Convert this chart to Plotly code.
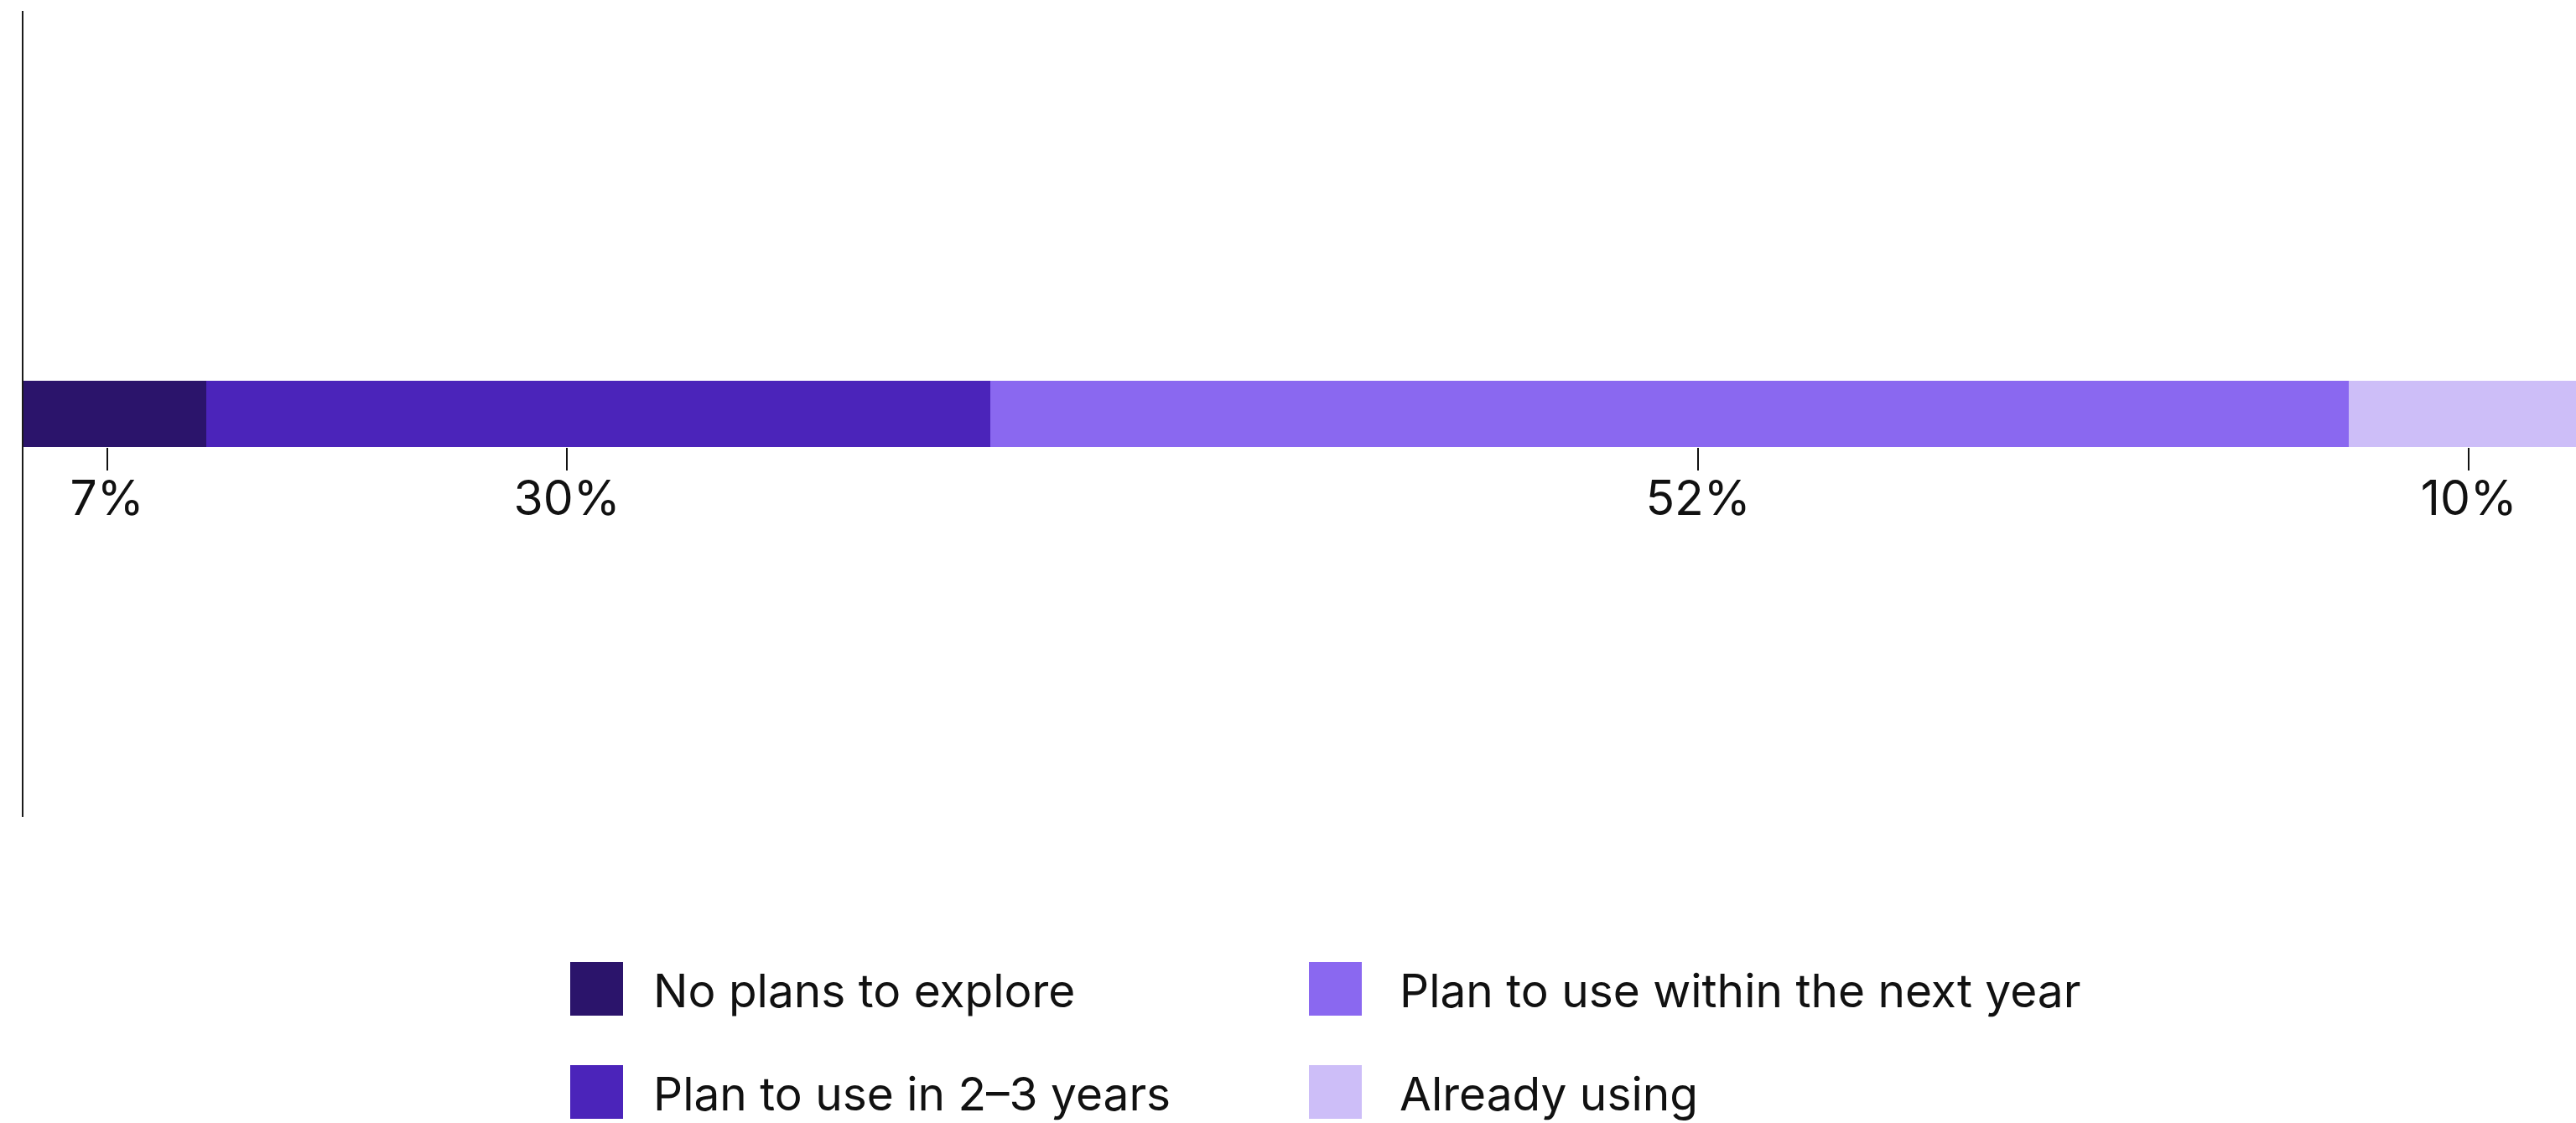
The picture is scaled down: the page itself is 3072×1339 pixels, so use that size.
import plotly.graph_objects as go

# ---- data ----
categories = ["No plans to explore", "Plan to use in 2–3 years",
              "Plan to use within the next year", "Already using"]
values = [7, 30, 52, 10]
colors = ["#2B146B", "#4B24BA", "#8A68F0", "#CDBEF8"]
tick_labels = ["7%", "30%", "52%", "10%"]
label_pos = [3.2, 20.8, 64.1, 93.6]   # where the labels sit on the scale
legend_columns = [[0, 1], [2, 3]]     # indices into categories, per legend column

# ---- layout constants ----
W, H = 3072, 1339
ML, MR, MT, MB = 28, 0, 13, 365
PW, PH = W - ML - MR, H - MT - MB
FONT = "Inter"
BAR_W = 0.083
X_MAX = 97.7

fig = go.Figure()
for name, v, c in zip(categories, values, colors):
    fig.add_trace(go.Bar(
        x=[v], y=[0], orientation="h", name=name, width=BAR_W,
        marker=dict(color=c, line=dict(width=0)), showlegend=False,
        hoverinfo="skip",
    ))

fig.update_layout(
    width=W, height=H, barmode="stack",
    margin=dict(l=ML, r=MR, t=MT, b=MB, pad=0),
    paper_bgcolor="white", plot_bgcolor="rgba(0,0,0,0)",
    font=dict(family=FONT, color="#111111"),
    xaxis=dict(
        range=[0, X_MAX], anchor="free", position=0.5 - BAR_W / 2, side="bottom",
        tickmode="array", tickvals=label_pos, ticktext=tick_labels,
        ticks="outside", ticklen=27, tickwidth=1.5, tickcolor="#111111",
        ticklabelstandoff=-16,
        tickfont=dict(family=FONT, size=57, color="#111111"),
        showline=False, showgrid=False, zeroline=False, fixedrange=True,
    ),
    yaxis=dict(
        range=[-0.5, 0.5], showline=True, linewidth=2, linecolor="#1a1a1a",
        showticklabels=False, ticks="", showgrid=False, zeroline=False, fixedrange=True,
    ),
)

# ---- manual legend (large square swatches) ----
def px_x(x):
    return (x - ML) / PW

def px_y(y):
    return (H - MB - y) / PH

SW_X0, COL_STEP = 680, 881
TEXT_X0, TEXT_COL_STEP = 777, 890
SW_Y0, ROW_STEP = 1147, 123
SW = 63
for ci, col in enumerate(legend_columns):
    for ri, idx in enumerate(col):
        x0 = SW_X0 + ci * COL_STEP
        y0 = SW_Y0 + ri * ROW_STEP
        fig.add_shape(type="rect", xref="paper", yref="paper",
                      x0=px_x(x0), x1=px_x(x0 + SW), y0=px_y(y0), y1=px_y(y0 + SW + 1),
                      fillcolor=colors[idx], line=dict(width=0), layer="above")
        fig.add_annotation(xref="paper", yref="paper",
                           x=px_x(TEXT_X0 + ci * TEXT_COL_STEP),
                           y=px_y(y0 + SW / 2 + 2), text=categories[idx],
                           showarrow=False, xanchor="left", yanchor="middle",
                           font=dict(family=FONT, size=55, color="#111111"))

fig.write_html("out.html", config={"displayModeBar": False})
